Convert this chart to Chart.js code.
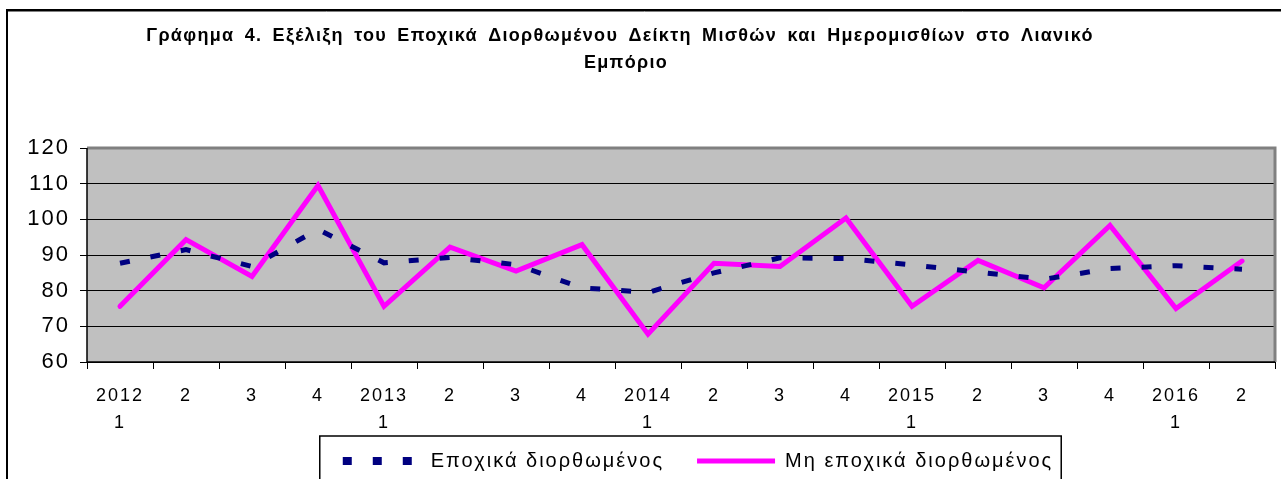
<!DOCTYPE html>
<html>
<head>
<meta charset="utf-8">
<script src="https://cdn.jsdelivr.net/npm/chart.js@4"></script>
<style>
  body { margin: 0; background: #fff; }
  #wrap { width: 1281px; height: 479px; }
</style>
</head>
<body>
<div id="wrap"><canvas id="wageChart" width="1281" height="479"></canvas></div>
<script>
// Chart data
const titleLines = [
    "Γράφημα 4. Εξέλιξη του Εποχικά Διορθωμένου Δείκτη Μισθών και Ημερομισθίων στο Λιανικό",
    "Εμπόριο"
];
const quarterLabels = [
    ["2012", "1"], "2", "3", "4",
    ["2013", "1"], "2", "3", "4",
    ["2014", "1"], "2", "3", "4",
    ["2015", "1"], "2", "3", "4",
    ["2016", "1"], "2"
];
const seasonalLabel = "Εποχικά διορθωμένος";
const rawLabel = "Μη εποχικά διορθωμένος";
const seasonalValues = [87.7, 91.5, 86.8, 97.2, 87.8, 89.3, 87.3, 80.8, 79.5, 85.0, 89.2, 89.0, 87.2, 85.2, 83.2, 86.2, 87.0, 86.0];
const rawValues = [75.6, 94.3, 84.0, 109.5, 75.6, 92.2, 85.5, 92.9, 67.8, 87.7, 86.8, 100.4, 75.6, 88.5, 80.8, 98.3, 75.0, 88.3];
const yTicks = [60, 70, 80, 90, 100, 110, 120];

const FONT = "'Liberation Sans', Arial, sans-serif";
const TEXT_SPACING = "2px";

// background, frame, grey plot area, title and legend box
const framePlugin = {
    id: "frame",
    beforeUpdate(chart) {
        // canvas resize resets the context, so set spacing before measuring
        chart.ctx.letterSpacing = TEXT_SPACING;
    },
    beforeLayout(chart) {
        const lg = chart.legend;
        if (lg && !lg._fixedFit) {
            const fit = lg.fit;
            lg.fit = function () { fit.call(this); this.height = 47; };
            lg._fixedFit = true;
        }
    },
    afterLayout(chart) {
        // legend sits a bit right of centre and tucked up in the original
        const lg = chart.legend;
        if (lg) {
            lg.left += 17; lg.right += 17;
            lg.top -= 14;
            lg.bottom = chart.height;
        }
    },
    beforeDraw(chart) {
        const ctx = chart.ctx;
        const a = chart.chartArea;
        ctx.save();
        ctx.fillStyle = "#fff";
        ctx.fillRect(0, 0, chart.width, chart.height);
        // outer frame (only top and left visible)
        ctx.strokeStyle = "#000";
        ctx.lineWidth = 2;
        ctx.beginPath();
        ctx.moveTo(7, chart.height);
        ctx.lineTo(7, 10);
        ctx.lineTo(chart.width, 10);
        ctx.stroke();
        ctx.strokeStyle = "#808080";
        ctx.lineWidth = 1;
        ctx.beginPath();
        ctx.moveTo(8, 11.5);
        ctx.lineTo(chart.width, 11.5);
        ctx.stroke();
        // plot area
        ctx.fillStyle = "#c0c0c0";
        ctx.fillRect(a.left, a.top, a.right - a.left, a.bottom - a.top);
        // title
        ctx.fillStyle = "#000";
        ctx.font = "bold 18px " + FONT;
        ctx.textAlign = "center";
        ctx.textBaseline = "middle";
        ctx.letterSpacing = "1.3px";
        ctx.wordSpacing = "4px";
        ctx.fillText(titleLines[0], 620, 36);
        ctx.fillText(titleLines[1], 626, 63);
        ctx.restore();
        ctx.letterSpacing = TEXT_SPACING;
    },
    beforeDatasetsDraw(chart) {
        const ctx = chart.ctx;
        const a = chart.chartArea;
        ctx.save();
        ctx.strokeStyle = "#808080";
        ctx.lineWidth = 3;
        ctx.beginPath();
        ctx.moveTo(a.left, a.top);
        ctx.lineTo(a.right, a.top);
        ctx.lineTo(a.right, a.bottom);
        ctx.stroke();
        ctx.strokeStyle = "#000";
        ctx.lineWidth = 1.5;
        ctx.beginPath();
        ctx.moveTo(a.left, a.top);
        ctx.lineTo(a.left, a.bottom);
        ctx.lineTo(a.right, a.bottom);
        ctx.stroke();
        ctx.restore();
    },
    afterDraw(chart) {
        const lg = chart.legend;
        if (!lg || !lg.legendHitBoxes.length) return;
        const boxes = lg.legendHitBoxes;
        const last = boxes[boxes.length - 1];
        const ctx = chart.ctx;
        const left = boxes[0].left - 23;
        const right = last.left + last.width + 8;
        const top = boxes[0].top - 15;
        ctx.save();
        ctx.strokeStyle = "#000";
        ctx.lineWidth = 1.5;
        ctx.beginPath();
        ctx.moveTo(left, chart.height + 5);
        ctx.lineTo(left, top);
        ctx.lineTo(right, top);
        ctx.lineTo(right, chart.height + 5);
        ctx.stroke();
        ctx.restore();
    }
};

new Chart(document.getElementById("wageChart"), {
    type: "line",
    data: {
        labels: quarterLabels,
        datasets: [
            {
                label: seasonalLabel,
                data: seasonalValues,
                borderColor: "#000080",
                backgroundColor: "#000080",
                borderWidth: 5,
                borderDash: [10, 21],
                pointRadius: 0,
                pointStyle: "line",
                tension: 0
            },
            {
                label: rawLabel,
                data: rawValues,
                borderColor: "#ff00ff",
                backgroundColor: "#ff00ff",
                borderWidth: 5,
                borderCapStyle: "round",
                pointRadius: 0,
                pointStyle: "line",
                tension: 0
            }
        ]
    },
    options: {
        responsive: false,
        animation: false,
        layout: { padding: { top: 148, right: 6, left: 0, bottom: 0 } },
        plugins: {
            title: { display: false },
            tooltip: { enabled: false },
            legend: {
                position: "bottom",
                fullSize: false,
                labels: {
                    usePointStyle: true,
                    pointStyleWidth: 78,
                    boxWidth: 78,
                    boxHeight: 8,
                    padding: 33,
                    color: "#000",
                    font: { family: FONT, size: 20 },
                    generateLabels(chart) {
                        const items = Chart.defaults.plugins.legend.labels.generateLabels(chart);
                        items.forEach((item) => {
                            const ds = chart.data.datasets[item.datasetIndex];
                            item.lineDash = ds.borderDash ? [9, 21] : [];
                            item.lineWidth = ds.borderDash ? 8 : 5;
                        });
                        return items;
                    }
                }
            }
        },
        scales: {
            x: {
                offset: true,
                grid: {
                    offset: true,
                    drawOnChartArea: false,
                    drawTicks: true,
                    tickLength: 7,
                    color: "#000"
                },
                border: { display: false },
                ticks: {
                    color: "#000",
                    padding: 14,
                    maxRotation: 0,
                    autoSkip: false,
                    font: { family: FONT, size: 18, lineHeight: 1.5 }
                },
                afterFit(scale) { scale.height = 70; }
            },
            y: {
                min: 60,
                max: 120,
                afterBuildTicks(scale) { scale.ticks = yTicks.map(v => ({ value: v })); },
                grid: {
                    color: "#000",
                    lineWidth: 1,
                    tickLength: 7
                },
                border: { display: false },
                ticks: {
                    color: "#000",
                    padding: 10,
                    font: { family: FONT, size: 22 }
                },
                afterFit(scale) { scale.width = 87; }
            }
        }
    },
    plugins: [framePlugin]
});
</script>
</body>
</html>
